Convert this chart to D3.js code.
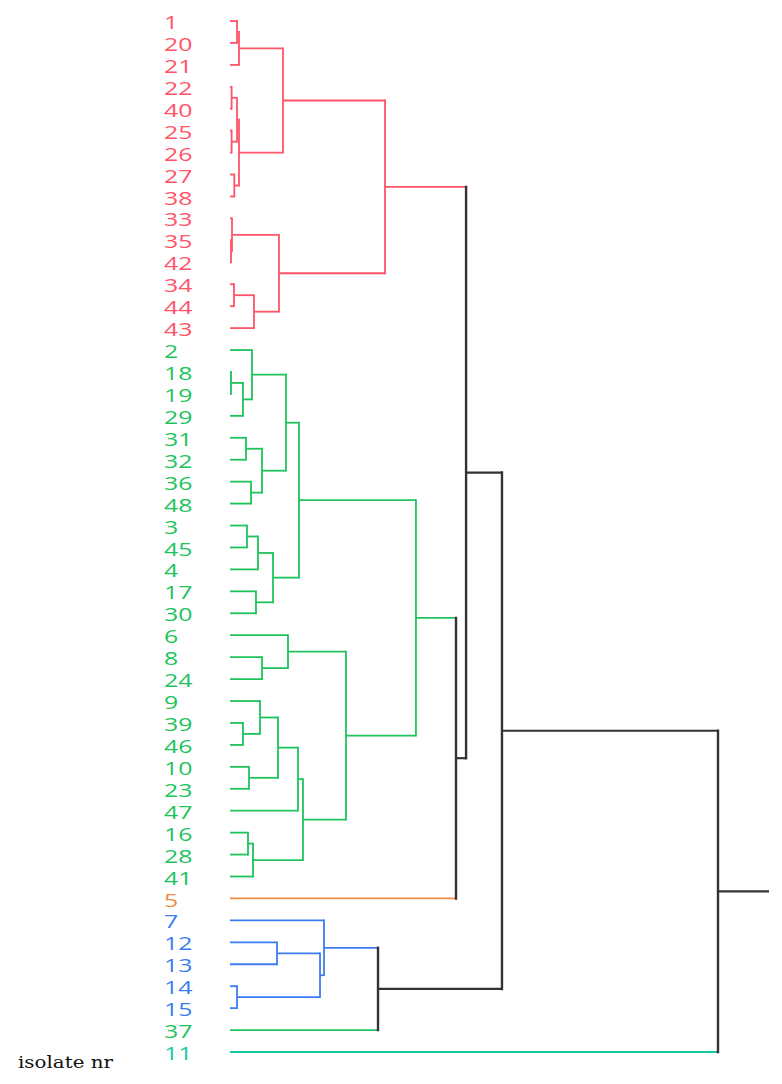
<!DOCTYPE html>
<html>
<head>
<meta charset="utf-8">
<script src="https://cdn.jsdelivr.net/npm/d3@7"></script>
<style>
  body { margin: 0; background: #fff; }
  .leafLabel { font-family: "Open Sans", "Noto Sans", sans-serif; font-size: 18px; }
  .axisTitle { font-family: "DejaVu Serif", "Liberation Serif", serif; font-size: 17px; fill: #111; }
</style>
</head>
<body>
<div id="dendro"></div>
<script>
var svgWidth = 782;
var svgHeight = 1084;

// leaf order, top to bottom
var leafOrder = ["1","20","21","22","40","25","26","27","38","33","35","42","34","44","43",
  "2","18","19","29","31","32","36","48","3","45","4","17","30","6","8","24","9","39","46",
  "10","23","47","16","28","41","5","7","12","13","14","15","37","11"];

// cluster of each leaf (index into groupColors)
var leafGroup = [0,0,0,0,0,0,0,0,0,0,0,0,0,0,0,
  1,1,1,1,1,1,1,1,1,1,1,1,1,1,1,1,1,1,1,
  1,1,1,1,1,1,2,3,3,3,3,3,1,4];

// 0 red, 1 green, 2 orange, 3 blue, 4 teal, 5 black (above threshold)
var groupColors = ["#ff5468", "#1ec35c", "#f28a45", "#3d7cf0", "#17c9a3", "#333333"];

// merges: [name, childA, childB, distance, group]
var merges = [
  ["r1", "1", "20", 1.3, 0],
  ["r2", "r1", "21", 1.67, 0],
  ["r3", "22", "40", 0.3, 0],
  ["r4", "25", "26", 0.3, 0],
  ["r5", "r3", "r4", 1.3, 0],
  ["r6", "27", "38", 0.8, 0],
  ["r7", "r5", "r6", 1.67, 0],
  ["r8", "r2", "r7", 9.83, 0],
  ["r9", "35", "42", 0.19, 0],
  ["r10", "33", "r9", 0.37, 0],
  ["r11", "34", "44", 0.74, 0],
  ["r12", "r11", "43", 4.45, 0],
  ["r13", "r10", "r12", 9.09, 0],
  ["r14", "r8", "r13", 28.76, 0],
  ["g1", "18", "19", 0.19, 1],
  ["g2", "g1", "29", 2.41, 1],
  ["g3", "2", "g2", 4.08, 1],
  ["g4", "31", "32", 2.97, 1],
  ["g5", "36", "48", 3.9, 1],
  ["g6", "g4", "g5", 5.94, 1],
  ["g7", "g3", "g6", 10.39, 1],
  ["g8", "3", "45", 3.15, 1],
  ["g9", "g8", "4", 5.19, 1],
  ["g10", "17", "30", 4.82, 1],
  ["g11", "g9", "g10", 7.98, 1],
  ["g12", "g7", "g11", 12.8, 1],
  ["g13", "8", "24", 5.94, 1],
  ["g14", "6", "g13", 10.76, 1],
  ["g15", "39", "46", 2.41, 1],
  ["g16", "9", "g15", 5.57, 1],
  ["g17", "10", "23", 3.53, 1],
  ["g18", "g16", "g17", 8.91, 1],
  ["g19", "g18", "47", 12.62, 1],
  ["g20", "16", "28", 3.34, 1],
  ["g21", "g20", "41", 4.27, 1],
  ["g22", "g19", "g21", 13.54, 1],
  ["g23", "g14", "g22", 21.52, 1],
  ["g24", "g12", "g23", 34.5, 1],
  ["k1", "g24", "5", 41.93, 5],
  ["k2", "r14", "k1", 43.8, 5],
  ["b1", "12", "13", 8.72, 3],
  ["b2", "14", "15", 1.3, 3],
  ["b3", "b1", "b2", 16.7, 3],
  ["b4", "7", "b3", 17.44, 3],
  ["k3", "b4", "37", 27.46, 5],
  ["k4", "k2", "k3", 50.46, 5],
  ["k5", "k4", "11", 90.54, 5]
];
var rootStub = 100;

var svg = d3.select("#dendro")
  .append("svg")
  .attr("width", svgWidth)
  .attr("height", svgHeight);

// scales
var yScale = d3.scalePoint()
  .domain(leafOrder)
  .range([21, 1052]);

var xScale = d3.scaleLinear()
  .domain([0, 100])
  .range([230, 769]);

// node positions
var nodes = {};
leafOrder.forEach(function(name, i) {
  nodes[name] = { y: yScale(name), h: 0, group: leafGroup[i] };
});
merges.forEach(function(m) {
  var a = nodes[m[1]], b = nodes[m[2]];
  nodes[m[0]] = { y: (a.y + b.y) / 2, h: m[3], group: m[4] };
  a.parent = m[0];
  b.parent = m[0];
});

var lines = svg.append("g").attr("fill", "none");

// horizontal from each node to its parent height, in the node's colour
Object.keys(nodes).forEach(function(name) {
  var n = nodes[name];
  var endH = n.parent ? nodes[n.parent].h : rootStub;
  lines.append("line")
    .attr("x1", xScale(n.h))
    .attr("x2", xScale(endH))
    .attr("y1", n.y)
    .attr("y2", n.y)
    .attr("stroke", groupColors[n.group])
    .attr("stroke-width", n.group == 5 ? 2.2 : 1.8);
});

// vertical bar of each merge
merges.forEach(function(m) {
  var a = nodes[m[1]], b = nodes[m[2]];
  lines.append("line")
    .attr("x1", xScale(m[3]))
    .attr("x2", xScale(m[3]))
    .attr("y1", a.y)
    .attr("y2", b.y)
    .attr("stroke", groupColors[m[4]])
    .attr("stroke-width", m[4] == 5 ? 2.4 : 1.8)
    .attr("stroke-linecap", "square");
});

// leaf labels
svg.selectAll("text.leafLabel")
  .data(leafOrder)
  .enter()
  .append("text")
  .attr("class", "leafLabel")
  .attr("transform", d => `translate(164, ${yScale(d) + 1}) scale(1.38, 1)`)
  .attr("dominant-baseline", "central")
  .attr("fill", (d, i) => groupColors[leafGroup[i]])
  .text(d => d);

svg.append("text")
  .attr("class", "axisTitle")
  .attr("x", 18)
  .attr("y", 1068)
  .attr("textLength", 95)
  .attr("lengthAdjust", "spacingAndGlyphs")
  .text("isolate nr");
</script>
</body>
</html>
